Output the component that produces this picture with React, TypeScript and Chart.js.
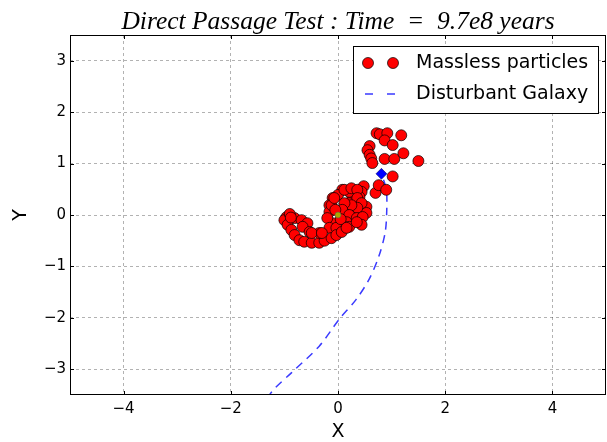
import React, { useEffect, useRef } from 'react';
import { Chart, registerables } from 'chart.js';

Chart.register(...registerables);

const xTicks = [-4, -2, 0, 2, 4];
const yTicks = [-3, -2, -1, 0, 1, 2, 3];

const particles: [number, number][] = [
  // upper hook
  [0.72, 1.59], [0.78, 1.57], [0.92, 1.59], [1.18, 1.55], [0.87, 1.45], [1.02, 1.36],
  [0.59, 1.34], [0.55, 1.26], [0.59, 1.17], [0.62, 1.10], [0.64, 1.01], [0.87, 1.09],
  [1.05, 1.09], [1.22, 1.20], [1.50, 1.05], [1.02, 0.75], [0.70, 0.43], [0.76, 0.58],
  [0.90, 0.49], [0.48, 0.56],
  // middle cluster
  [0.44, 0.45], [0.40, 0.35], [0.27, 0.33], [0.21, 0.45], [0.08, 0.49], [0.0, 0.39],
  [-0.10, 0.33], [-0.16, 0.19], [0.21, 0.23], [0.35, 0.19], [0.53, 0.16], [0.53, 0.04],
  [0.27, 0.06], [0.16, 0.14], [-0.16, 0.06], [-0.12, 0.19], [-0.07, 0.33], [0.12, 0.49],
  [0.25, 0.52], [0.36, 0.49], [0.36, 0.33], [0.44, 0.23], [0.36, 0.14], [0.25, 0.19],
  [0.12, 0.23], [0.08, 0.10], [0.21, 0.0], [0.35, -0.06], [0.46, -0.04], [0.16, -0.14],
  [0.07, -0.19], [-0.10, -0.16], [-0.20, -0.06], [-0.16, -0.25], [-0.03, -0.25],
  [0.21, -0.23], [0.44, -0.19], [-0.05, 0.10], [0.05, -0.08],
  // lower hook
  [-0.96, -0.04], [-1.00, -0.10], [-0.94, -0.19], [-0.87, -0.29], [-0.81, -0.39],
  [-0.72, -0.49], [-0.63, -0.52], [-0.49, -0.54], [-0.35, -0.54], [-0.25, -0.50],
  [-0.12, -0.45], [-0.03, -0.39], [0.07, -0.33], [0.16, -0.25], [0.35, -0.14],
  [-0.81, -0.06], [-0.68, -0.10], [-0.57, -0.16], [-0.66, -0.23], [-0.53, -0.33],
  [-0.35, -0.35], [-0.90, 0.02], [-0.88, -0.05], [-0.49, -0.35], [-0.30, -0.35],
];

const galaxyPath: [number, number][] = [
  [-1.45, -3.8], [-1.23, -3.43], [-0.86, -3.06], [-0.35, -2.55], [0.02, -2.03],
  [0.34, -1.64], [0.58, -1.25], [0.76, -0.81], [0.88, -0.34], [0.91, 0.11],
  [0.90, 0.50], [0.81, 0.80],
];

const galaxyPos: [number, number][] = [[0.81, 0.80]];
const centerPos: [number, number][] = [[0, 0]];

const titleText = 'Direct Passage Test : Time  =  9.7e8 years';
const legendLabels = ['Massless particles', 'Disturbant Galaxy'];
const xLabel = 'X';
const yLabel = 'Y';

const fmt = (v: number) => (v < 0 ? '\u2212' + Math.abs(v) : String(v));
const toPts = (a: [number, number][]) => a.map(([x, y]) => ({ x, y }));

const decorPlugin = {
  id: 'decor',
  afterDatasetsDraw(chart: any) {
    const { ctx, chartArea: ca, scales } = chart;
    const { left, right, top, bottom } = ca;
    ctx.save();
    // frame
    ctx.strokeStyle = '#000';
    ctx.lineWidth = 1;
    ctx.setLineDash([]);
    ctx.strokeRect(left + 0.5, top + 0.5, right - left - 1, bottom - top - 1);
    // inside ticks
    const tl = 4;
    ctx.beginPath();
    xTicks.forEach((v) => {
      const px = Math.round(scales.x.getPixelForValue(v)) + 0.5;
      ctx.moveTo(px, bottom);
      ctx.lineTo(px, bottom - tl);
      ctx.moveTo(px, top);
      ctx.lineTo(px, top + tl);
    });
    yTicks.forEach((v) => {
      const py = Math.round(scales.y.getPixelForValue(v)) + 0.5;
      ctx.moveTo(left, py);
      ctx.lineTo(left + tl, py);
      ctx.moveTo(right, py);
      ctx.lineTo(right - tl, py);
    });
    ctx.stroke();

    // legend
    const lx = 353.5, ly = 46.5, lw = 245, lh = 67;
    ctx.fillStyle = '#fff';
    ctx.fillRect(lx, ly, lw, lh);
    ctx.strokeRect(lx, ly, lw, lh);
    const r1 = 63, r2 = 94;
    [368, 393].forEach((mx) => {
      ctx.beginPath();
      ctx.arc(mx, r1, 5.5, 0, Math.PI * 2);
      ctx.fillStyle = '#ff0000';
      ctx.fill();
      ctx.lineWidth = 0.7;
      ctx.strokeStyle = '#000';
      ctx.stroke();
    });
    ctx.strokeStyle = '#3a3aff';
    ctx.lineWidth = 1.5;
    ctx.beginPath();
    ctx.moveTo(365, r2);
    ctx.lineTo(373, r2);
    ctx.moveTo(387, r2);
    ctx.lineTo(395, r2);
    ctx.stroke();
    ctx.fillStyle = '#000';
    ctx.font = '19px "DejaVu Sans"';
    ctx.textBaseline = 'middle';
    ctx.textAlign = 'left';
    ctx.fillText(legendLabels[0], 416, r1);
    ctx.fillText(legendLabels[1], 416, r2);

    // axis titles
    ctx.textAlign = 'center';
    ctx.fillText(xLabel, (left + right) / 2, 432);
    ctx.save();
    ctx.translate(21, (top + bottom) / 2);
    ctx.rotate(-Math.PI / 2);
    ctx.fillText(yLabel, 0, 0);
    ctx.restore();

    // title
    ctx.font = 'italic 25.5px "Liberation Serif"';
    ctx.textAlign = 'center';
    ctx.textBaseline = 'alphabetic';
    ctx.fillText(titleText, (left + right) / 2, 29);
    ctx.restore();
  },
};

export default function App() {
  const ref = useRef<HTMLCanvasElement>(null);
  useEffect(() => {
    document.body.style.margin = '0';
    const canvas = ref.current!;
    const chart = new Chart(canvas, {
      type: 'scatter',
      data: {
        datasets: [
          {
            label: 'galaxy',
            data: toPts(galaxyPos),
            pointStyle: 'rectRot',
            pointRadius: 5.5,
            backgroundColor: '#0000ff',
            borderColor: '#000050',
            borderWidth: 0.5,
          },
          {
            label: 'center',
            data: toPts(centerPos),
            pointRadius: 3,
            backgroundColor: '#a8a800',
            borderColor: '#555',
            borderWidth: 0.5,
          },
          {
            label: legendLabels[0],
            data: toPts(particles),
            pointRadius: 5.5,
            backgroundColor: '#ff0000',
            borderColor: '#000',
            borderWidth: 0.7,
          },
          {
            label: legendLabels[1],
            data: toPts(galaxyPath),
            showLine: true,
            pointRadius: 0,
            borderColor: '#3a3aff',
            borderWidth: 1.5,
            borderDash: [8, 6],
            tension: 0.3,
            fill: false,
          } as any,
        ],
      },
      options: {
        animation: false,
        responsive: false,
        devicePixelRatio: 1,
        layout: { autoPadding: false, padding: { top: 35, right: 1, left: 0, bottom: 0 } },
        plugins: { legend: { display: false }, tooltip: { enabled: false }, title: { display: false } },
        scales: {
          x: {
            type: 'linear',
            min: -5,
            max: 5,
            afterBuildTicks: (s: any) => { s.ticks = xTicks.map((v) => ({ value: v })); },
            afterFit: (s: any) => { s.height = 47; s.paddingLeft = 0; s.paddingRight = 0; },
            grid: { color: 'rgba(0,0,0,0.3)', lineWidth: 1, drawTicks: false },
            border: { display: false, dash: [3, 3] },
            ticks: {
              font: { family: 'DejaVu Sans', size: 15 },
              color: '#000',
              padding: 5,
              maxRotation: 0,
              autoSkip: false,
              callback: (v: any) => fmt(Number(v)),
            },
            title: { display: false },
          },
          y: {
            type: 'linear',
            min: -3.5,
            max: 3.5,
            afterBuildTicks: (s: any) => { s.ticks = yTicks.map((v) => ({ value: v })); },
            afterFit: (s: any) => { s.width = 70; s.paddingTop = 0; s.paddingBottom = 0; },
            grid: { color: 'rgba(0,0,0,0.3)', lineWidth: 1, drawTicks: false },
            border: { display: false, dash: [3, 3] },
            ticks: {
              font: { family: 'DejaVu Sans', size: 15 },
              color: '#000',
              padding: 4,
              autoSkip: false,
              callback: (v: any) => fmt(Number(v)),
            },
            title: { display: false },
          },
        },
      },
      plugins: [decorPlugin],
    } as any);
    return () => chart.destroy();
  }, []);
  return (
    <div style={{ width: 607, height: 442 }}>
      <canvas ref={ref} width={607} height={442} style={{ display: 'block' }} />
    </div>
  );
}
